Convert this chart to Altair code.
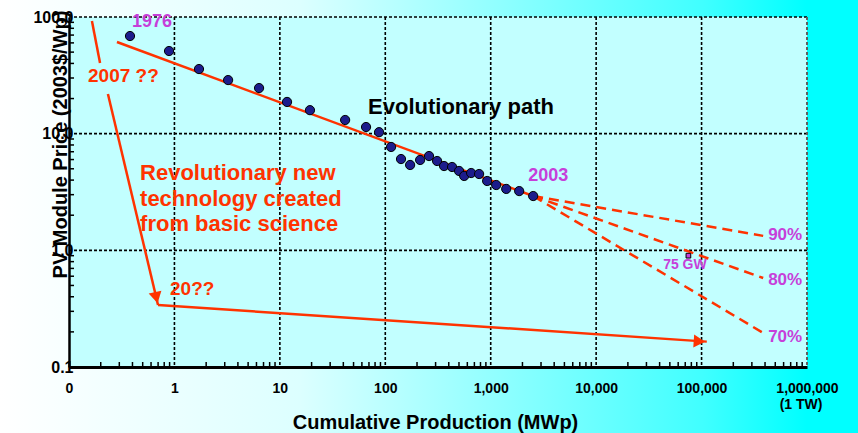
import altair as alt
import pandas as pd

FONT = "Liberation Sans"
RED = "#ff3300"
PURPLE = "#c63fd9"
W, H = 738, 350

# Historic PV module experience curve: cumulative production (MWp) vs price (2003 $/Wp)
cum_mw = [0.379, 0.889, 1.71, 3.23, 6.35, 11.7, 19.3, 41.6, 65.7, 87.3, 113.5, 141,
          172, 214, 260, 310, 361, 430, 501, 560, 652, 776, 925, 1127, 1403, 1862, 2528]
price = [68.7, 51.1, 35.8, 28.8, 24.6, 18.7, 15.9, 13.1, 11.4, 10.3, 7.69, 6.06,
         5.39, 5.95, 6.43, 5.83, 5.28, 5.18, 4.79, 4.34, 4.60, 4.51, 3.93, 3.63, 3.36, 3.22, 2.92]

# Evolutionary learning-curve fit
evo_x = [0.285, 2528]
evo_y = [61.0, 2.92]

# Projections beyond 2003 for progress ratios of 90 / 80 / 70 %
proj_names = ["90%", "80%", "70%"]
proj_start = (2528, 2.92)
proj_end_x = 384000
proj_end_y = [1.33, 0.579, 0.196]

# Revolutionary path (segment "a" stops short of the "2007 ??" label)
rev_seg = ["a", "a", "b", "b", "c", "c"]
rev_x = [0.165, 0.197, 0.234, 0.699, 0.699, 112000]
rev_y = [92.4, 40.3, 21.9, 0.34, 0.34, 0.165]

# Arrowheads at the ends of the revolutionary path
head_x = [0.673, 95300]
head_y = [0.393, 0.166]
head_angle = [167, 94]

# Axis decades and minor tick positions
x_decades = [0.1, 1, 10, 100, 1000, 10000, 100000, 1000000]
y_decades = [0.1, 1, 10, 100]
x_minor = [m * d for d in x_decades[:-1] for m in range(2, 10)]
y_minor = [m * d for d in y_decades[:-1] for m in range(2, 10)]

# Annotations
ann_text = ["1976", "2007 ??", "Evolutionary path", "Revolutionary new", "technology created",
            "from basic science", "20??", "2003", "75 GW", "90%", "80%", "70%"]
ann_x = [0.396, 0.1515, 68.7, 0.472, 0.472, 0.472, 0.908, 2264, 43200, 428000, 428000, 428000]
ann_y = [90.6, 31.2, 16.9, 4.57, 2.74, 1.67, 0.466, 4.34, 0.748, 1.35, 0.557, 0.181]
ann_color = [PURPLE, RED, "black", RED, RED, RED, RED, PURPLE, PURPLE, PURPLE, PURPLE, PURPLE]
ann_size = [18, 19, 22, 22, 22, 22, 19, 18, 14, 17, 17, 17]

gw75_x = [75000]
gw75_y = [0.9]

xs = alt.Scale(type="log", domain=[0.1, 1e6], nice=False)
ys = alt.Scale(type="log", domain=[0.1, 100], nice=False)

x_axis = alt.Axis(
    values=x_decades, labelExpr="datum.value < 0.5 ? '0' : format(datum.value, ',')",
    labelFont=FONT, labelFontWeight="bold", labelFontSize=14, labelColor="black",
    labelFlush=False, labelOverlap=False, labelPadding=14,
    ticks=False, grid=False,
    domainColor="black", domainWidth=3,
    title="Cumulative Production (MWp)", titleFont=FONT, titleFontWeight="bold",
    titleFontSize=20, titleColor="black", titleX=366, titleY=55,
    titleBaseline="middle", titleAlign="center", zindex=2,
)
y_axis = alt.Axis(
    values=y_decades, labelExpr="datum.value < 0.5 ? '0.1' : format(datum.value, '.1f')",
    labelFont=FONT, labelFontWeight="bold", labelFontSize=16, labelColor="black",
    labelFlush=False, labelOverlap=False, labelPadding=-4,
    ticks=False, grid=False,
    domainColor="black", domainWidth=2.5,
    title="PV Module Price (2003$/Wp)", titleFont=FONT, titleFontWeight="bold",
    titleFontSize=20, titleColor="black", titleX=-9, titleY=127, titleAngle=270,
    titleBaseline="middle", titleAlign="center", zindex=2,
)

# every layer shares the same scale + axis definition
X = alt.X("x:Q", scale=xs, axis=x_axis)
Y = alt.Y("y:Q", scale=ys, axis=y_axis)

one = pd.DataFrame({"k": [0]})

# page background gradient (white to cyan), spanning the whole canvas
bg = alt.Chart(one).mark_rect(
    fill=alt.LinearGradient(
        gradient="linear", x1=0, x2=1, y1=0, y2=0,
        stops=[alt.GradientStop(color="#ffffff", offset=0),
               alt.GradientStop(color="#dcffff", offset=0.35),
               alt.GradientStop(color="#90ffff", offset=0.58),
               alt.GradientStop(color="#40ffff", offset=0.82),
               alt.GradientStop(color="#00ffff", offset=0.94),
               alt.GradientStop(color="#00ffff", offset=1)]),
).encode(x=alt.value(-69), x2=alt.value(789), y=alt.value(-17), y2=alt.value(416))

plot_bg = alt.Chart(one).mark_rect(fill="#c2ffff").encode(
    x=alt.value(0), x2=alt.value(W), y=alt.value(0), y2=alt.value(H))

vgrid = alt.Chart(pd.DataFrame({"x": x_decades[1:-1]})).mark_rule(
    color="black", strokeWidth=1.6, strokeDash=[3, 2]
).encode(x=X, y=alt.value(0), y2=alt.value(H))

right_edge = alt.Chart(pd.DataFrame({"x": x_decades[-1:]})).mark_rule(
    color="#606060", strokeWidth=2, strokeDash=[3, 2]
).encode(x=X, y=alt.value(0), y2=alt.value(H))

hgrid = alt.Chart(pd.DataFrame({"y": y_decades[1:]})).mark_rule(
    color="black", strokeWidth=1.6, strokeDash=[3, 2]
).encode(y=Y, x=alt.value(0), x2=alt.value(W))

xticks = alt.Chart(pd.DataFrame({"x": x_minor})).mark_rule(color="black", strokeWidth=1.5).encode(
    x=X, y=alt.value(H), y2=alt.value(H - 5))

yticks = alt.Chart(pd.DataFrame({"y": y_minor})).mark_rule(color="black", strokeWidth=1.5).encode(
    y=Y, x=alt.value(0), x2=alt.value(5))

evo = alt.Chart(pd.DataFrame({"x": evo_x, "y": evo_y})).mark_line(
    color=RED, strokeWidth=2.5
).encode(x=X, y=Y)

proj_rows = []
for name, ey in zip(proj_names, proj_end_y):
    proj_rows.append({"s": name, "x": proj_start[0], "y": proj_start[1]})
    proj_rows.append({"s": name, "x": proj_end_x, "y": ey})
proj = alt.Chart(pd.DataFrame(proj_rows)).mark_line(
    color=RED, strokeWidth=2.5, strokeDash=[10, 6]
).encode(x=X, y=Y, detail="s:N")

rev = alt.Chart(pd.DataFrame({"s": rev_seg, "x": rev_x, "y": rev_y})).mark_line(
    color=RED, strokeWidth=2.5
).encode(x=X, y=Y, detail="s:N")

heads = alt.Chart(pd.DataFrame({"x": head_x, "y": head_y, "a": head_angle})).mark_point(
    shape="triangle-up", filled=True, color=RED, opacity=1, size=170
).encode(x=X, y=Y, angle=alt.Angle("a:Q", scale=None))

dots = alt.Chart(pd.DataFrame({"x": cum_mw, "y": price})).mark_point(
    shape="circle", filled=True, fill="#1c1c8c", stroke="black", strokeWidth=1, opacity=1, size=85
).encode(x=X, y=Y)

gw = alt.Chart(pd.DataFrame({"x": gw75_x, "y": gw75_y})).mark_point(
    shape="square", filled=True, fill=PURPLE, stroke="black", strokeWidth=1, opacity=1, size=22
).encode(x=X, y=Y)

labels = alt.Chart(pd.DataFrame({"t": ann_text, "x": ann_x, "y": ann_y,
                                 "c": ann_color, "fs": ann_size})).mark_text(
    align="left", baseline="middle", font=FONT, fontWeight="bold"
).encode(x=X, y=Y, text="t:N",
         color=alt.Color("c:N", scale=None), size=alt.Size("fs:Q", scale=None))

tw = alt.Chart(pd.DataFrame({"x": [1e6], "t": ["(1 TW)"]})).mark_text(
    align="center", baseline="middle", font=FONT, fontWeight="bold", fontSize=14,
    color="black", dx=-6
).encode(x=X, y=alt.value(388), text="t:N")

chart = alt.layer(
    bg, plot_bg, vgrid, hgrid, right_edge, xticks, yticks,
    evo, proj, rev, heads, dots, gw, labels, tw,
).properties(
    width=W, height=H,
    autosize=alt.AutoSizeParams(type="none"),
    padding={"left": 69, "top": 17, "right": 51, "bottom": 66},
).configure_view(strokeWidth=0)

chart.save("out.html", embed_options={"renderer": "svg", "actions": False})
